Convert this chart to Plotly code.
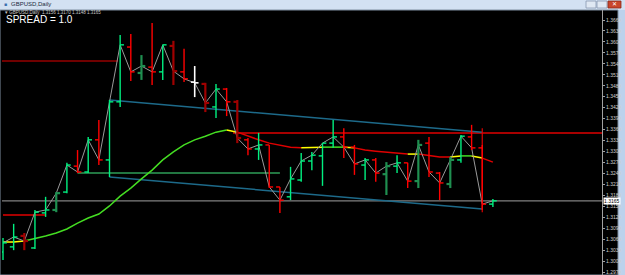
import plotly.graph_objects as go

# ---------------- data (GBPUSD, Daily) ----------------
bar_index = list(range(47))
opens = [1.3025, 1.3039, 1.3069, 1.3036, 1.3132, 1.3140, 1.3189, 1.3260, 1.3244, 1.3332,
         1.3277, 1.3436, 1.3586, 1.3515, 1.3531, 1.3518, 1.3589, 1.3518, 1.3490, 1.3485,
         1.3422, 1.3471, 1.3436, 1.3332, 1.3307, 1.3318, 1.3203, 1.3176, 1.3222, 1.3274,
         1.3288, 1.3323, 1.3340, 1.3312, 1.3263, 1.3277, 1.3238, 1.3260, 1.3269, 1.3219,
         1.3323, 1.3241, 1.3211, 1.3277, 1.3340, 1.3310, 1.3156]
highs = [1.3063, 1.3102, 1.3077, 1.3140, 1.3176, 1.3189, 1.3269, 1.3304, 1.3340, 1.3386,
         1.3441, 1.3619, 1.3622, 1.3564, 1.3652, 1.3592, 1.3603, 1.3581, 1.3534, 1.3488,
         1.3485, 1.3474, 1.3441, 1.3337, 1.3351, 1.3318, 1.3203, 1.3258, 1.3296, 1.3299,
         1.3323, 1.3386, 1.3364, 1.3318, 1.3282, 1.3282, 1.3271, 1.3290, 1.3269, 1.3332,
         1.3340, 1.3244, 1.3285, 1.3345, 1.3373, 1.3318, 1.3170]
lows = [1.3003, 1.3030, 1.3030, 1.3033, 1.3121, 1.3134, 1.3186, 1.3241, 1.3241, 1.3263,
        1.3230, 1.3422, 1.3493, 1.3496, 1.3482, 1.3496, 1.3482, 1.3490, 1.3449, 1.3408,
        1.3392, 1.3397, 1.3323, 1.3290, 1.3277, 1.3200, 1.3132, 1.3167, 1.3217, 1.3249,
        1.3206, 1.3310, 1.3282, 1.3236, 1.3222, 1.3217, 1.3181, 1.3241, 1.3200, 1.3200,
        1.3230, 1.3167, 1.3200, 1.3269, 1.3304, 1.3140, 1.3148]
closes = [1.3050, 1.3066, 1.3055, 1.3134, 1.3140, 1.3186, 1.3263, 1.3244, 1.3332, 1.3277,
          1.3436, 1.3592, 1.3518, 1.3534, 1.3518, 1.3592, 1.3520, 1.3499, 1.3488, 1.3433,
          1.3471, 1.3436, 1.3337, 1.3307, 1.3318, 1.3203, 1.3167, 1.3225, 1.3274, 1.3290,
          1.3323, 1.3340, 1.3312, 1.3266, 1.3277, 1.3241, 1.3260, 1.3269, 1.3219, 1.3318,
          1.3244, 1.3214, 1.3277, 1.3342, 1.3310, 1.3156, 1.3165]
bar_kind = ["up", "up", "down2", "up", "up", "up2", "up", "down", "up", "down",
            "up", "up", "down", "up2", "down", "up", "down2", "down", "doji", "down2",
            "up", "down", "down2", "down", "up", "down", "down", "up", "up", "up",
            "up", "up", "down", "down", "up", "down", "up2", "up", "down", "up2",
            "down", "down", "up2", "up", "down", "down", "up"]

ma_values = [1.3052, 1.3052, 1.3055, 1.3061, 1.3069, 1.3077, 1.3088, 1.3104, 1.3118, 1.3129,
             1.3151, 1.3178, 1.3200, 1.3225, 1.3249, 1.3277, 1.3299, 1.3318, 1.3332, 1.3342,
             1.3353, 1.3359, 1.3353, 1.3342, 1.3332, 1.3323, 1.3318, 1.3312, 1.3310, 1.3310,
             1.3312, 1.3313, 1.3312, 1.3310, 1.3304, 1.3301, 1.3299, 1.3296, 1.3293, 1.3293,
             1.3288, 1.3285, 1.3285, 1.3288, 1.3288, 1.3282, 1.3271]
# trend state of each MA segment (bar i -> bar i+1)
ma_trend = ["flat", "flat"] + ["up"] * 19 + ["flat"] + ["down"] * 6 + ["flat", "flat", "up", "up", "flat"] \
           + ["down"] * 5 + ["flat"] + ["down"] * 3 + ["flat", "up", "flat", "down"]

# horizontal levels drawn on the chart
level_price = [1.3548, 1.3351, 1.3241, 1.3126]
level_from = [-0.2, 21.6, 7.0, 0.0]
level_to = [10.8, 56.4, 26.0, 4.0]
level_kind = ["darkred", "red", "green", "red"]

# price channel
channel_x = [10, 45]
channel_upper = [1.3441, 1.3353]
channel_lower = [1.3230, 1.3143]
channel_end_line = [1.3364, 1.3134]

bid_price = 1.3165
spread_text = "SPREAD = 1.0"

tick_values = [1.3660, 1.3630, 1.3600, 1.3570, 1.3540, 1.3510, 1.3480, 1.3450, 1.3420, 1.3390,
               1.3360, 1.3330, 1.3300, 1.3270, 1.3240, 1.3210, 1.3180, 1.3150, 1.3120, 1.3090,
               1.3060, 1.3030, 1.3000, 1.2970]

# ---------------- styling ----------------
W, H = 625, 275
PLOT_L, PLOT_R, PLOT_T, PLOT_B = 2, 602, 10, 275
AX_R = 618


def px(x):
    return x / W


def py(y):
    return 1 - y / H


bar_colors = {"up": "#00f080", "up2": "#1f8f50", "down": "#ff0000", "down2": "#a00000", "doji": "#ffffff"}
bar_widths = {"up": 1.4, "up2": 2.2, "down": 1.4, "down2": 2.2, "doji": 1.6}
trend_colors = {"up": "#44dd22", "down": "#e00000", "flat": "#ffff00"}
level_colors = {"darkred": "#960000", "red": "#e00000", "green": "#2e9e57"}
TICK = 0.36

fig = go.Figure()

# levels
for p, a, b, k in zip(level_price, level_from, level_to, level_kind):
    fig.add_trace(go.Scatter(x=[a, b], y=[p, p], mode="lines",
                             line=dict(color=level_colors[k], width=1.5), hoverinfo="skip"))

# bid line
fig.add_trace(go.Scatter(x=[-0.2, 56.4], y=[bid_price, bid_price], mode="lines",
                         line=dict(color="#808080", width=1.2), hoverinfo="skip"))

# channel
fig.add_trace(go.Scatter(x=channel_x, y=channel_upper, mode="lines",
                         line=dict(color="#1d6a8a", width=1.5), hoverinfo="skip"))
fig.add_trace(go.Scatter(x=channel_x, y=channel_lower, mode="lines",
                         line=dict(color="#1d6a8a", width=1.5), hoverinfo="skip"))
fig.add_trace(go.Scatter(x=[channel_x[1], channel_x[1]], y=channel_end_line, mode="lines",
                         line=dict(color="#e00000", width=1.2), hoverinfo="skip"))

# MA coloured by trend
start = 0
for i in range(1, len(ma_trend) + 1):
    if i == len(ma_trend) or ma_trend[i] != ma_trend[start]:
        xs = bar_index[start:i + 1]
        ys = ma_values[start:i + 1]
        fig.add_trace(go.Scatter(x=xs, y=ys, mode="lines",
                                 line=dict(color=trend_colors[ma_trend[start]], width=1.5),
                                 hoverinfo="skip"))
        start = i

# close line
fig.add_trace(go.Scatter(x=bar_index, y=closes, mode="lines",
                         line=dict(color="#9a9a9a", width=1), hoverinfo="skip"))

# OHLC bars
for kind in bar_colors:
    xs, ys = [], []
    for i, o, h, l, c, k in zip(bar_index, opens, highs, lows, closes, bar_kind):
        if k != kind:
            continue
        xs += [i, i, None, i - TICK, i, None, i, i + TICK, None]
        ys += [l, h, None, o, o, None, c, c, None]
    if xs:
        fig.add_trace(go.Scatter(x=xs, y=ys, mode="lines",
                                 line=dict(color=bar_colors[kind], width=bar_widths[kind]),
                                 hoverinfo="skip"))

# price mapping: pixel y 20 -> 1.3660, 10.96 px per 0.0030
def price_at(y):
    return 1.3660 - (y - 20) * 0.0030 / 10.96


shapes = [
    # window title bar
    dict(type="rect", xref="paper", yref="paper", x0=0, x1=1, y0=py(PLOT_T), y1=1,
         fillcolor="#d3e1f2", line=dict(width=0), layer="below"),
    # black chart + axis area
    dict(type="rect", xref="paper", yref="paper", x0=0, x1=px(AX_R), y0=0, y1=py(PLOT_T),
         fillcolor="#000000", line=dict(color="#7f8ea0", width=1), layer="below"),
    # window buttons
    dict(type="rect", xref="paper", yref="paper", x0=px(586), x1=px(596), y0=py(8), y1=py(1),
         fillcolor="#dfe8f3", line=dict(color="#8898b0", width=0.8)),
    dict(type="rect", xref="paper", yref="paper", x0=px(597), x1=px(607), y0=py(8), y1=py(1),
         fillcolor="#dfe8f3", line=dict(color="#8898b0", width=0.8)),
    dict(type="rect", xref="paper", yref="paper", x0=px(608), x1=px(621), y0=py(8), y1=py(1),
         fillcolor="#c9462c", line=dict(color="#8a2a1a", width=0.8)),
]

annotations = [
    dict(text="GBPUSD,Daily", x=px(9), y=py(4.5), xref="paper", yref="paper",
         xanchor="left", yanchor="middle", showarrow=False,
         font=dict(family="Liberation Sans, Arial", size=6, color="#1a2a40")),
    dict(text="■", x=px(2), y=py(4.5), xref="paper", yref="paper",
         xanchor="left", yanchor="middle", showarrow=False,
         font=dict(size=5, color="#3a70b0")),
    dict(text="✕", x=px(614.5), y=py(4.5), xref="paper", yref="paper",
         xanchor="center", yanchor="middle", showarrow=False,
         font=dict(size=6, color="#ffffff")),
    dict(text="▾ GBPUSD,Daily  %.4f %.4f %.4f %.4f" % (opens[-1], highs[-1], lows[-1], closes[-1]),
         x=px(3), y=py(12.5), xref="paper", yref="paper",
         xanchor="left", yanchor="middle", showarrow=False,
         font=dict(family="Liberation Sans, Arial", size=4.5, color="#c8c8c8")),
    dict(text=spread_text, x=px(4), y=py(19), xref="paper", yref="paper",
         xanchor="left", yanchor="middle", showarrow=False,
         font=dict(family="Liberation Sans, Arial", size=10, color="#ffffff")),
    dict(text="%.4f" % bid_price, x=px(603), y=bid_price, xref="paper", yref="y",
         xanchor="left", yanchor="middle", showarrow=False, bgcolor="#ffffff",
         borderpad=0, font=dict(family="Liberation Sans, Arial", size=5, color="#000000")),
]

fig.update_layout(
    width=W, height=H,
    margin=dict(l=0, r=0, t=0, b=0, pad=0),
    paper_bgcolor="#bcd2ec",
    plot_bgcolor="#000000",
    showlegend=False,
    shapes=shapes,
    annotations=annotations,
    xaxis=dict(domain=[px(PLOT_L), px(PLOT_R)],
               range=[(PLOT_L - 3) / 10.65, (PLOT_R - 3) / 10.65],
               showgrid=False, zeroline=False, showticklabels=False, ticks=""),
    yaxis=dict(domain=[0, py(PLOT_T)],
               range=[price_at(PLOT_B), price_at(PLOT_T)],
               side="right", showgrid=False, zeroline=False,
               tickmode="array", tickvals=tick_values,
               ticktext=["%.4f" % v for v in tick_values],
               ticks="outside", ticklen=2, tickcolor="#a0a0a0",
               showline=True, linecolor="#a0a0a0", linewidth=1,
               tickfont=dict(family="Liberation Sans, Arial", size=5, color="#d0d0d0")),
)

fig.write_html("out.html", config={"displayModeBar": False})
